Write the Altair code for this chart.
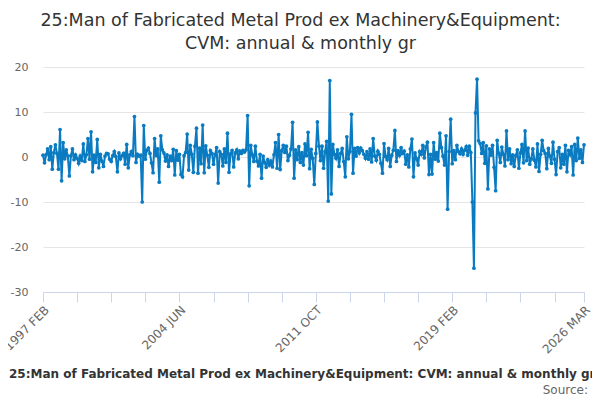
import pandas as pd
import altair as alt

# Monthly series, 1997 FEB .. 2026 MAR
values = [
    0.4, -1.3, 0.5, 1.8, -0.6, 2.3, -2.7, 1.0, 2.7, 0.8,
    -2.7, 6.1, -5.3, 3.2, -0.4, 1.6, 0.2, -4.2, 0.3, 1.8,
    -0.6, 0.5, -0.3, -1.4, 0.2, -0.8, 2.9, -1.0, 0.5, 4.1,
    -0.5, 5.6, -3.3, 0.4, -1.2, 3.9, -2.4, 0.6, -0.9, -2.1,
    0.2, 0.8, 0.7, -0.5, -1.0, 0.3, 1.2, 0.1, -3.3, 0.9,
    -0.4, 0.3, 0.8, -1.6, 2.8, -2.4, 0.5, 1.2, 0.3, 9.0,
    -1.2, 0.6, 0.2, 0.4, -10.0, 7.0, -0.5, 1.5, 2.0, 0.8,
    -1.3, -3.5, 4.1, 0.3, 1.8, -5.6, 4.7, 1.6, 0.9, -0.9,
    0.5, -2.1, 0.2, -0.8, 1.7, -4.0, 1.4, -0.7, 0.6, -3.9,
    -4.4, 0.3, 1.0, 5.1, -2.9, 2.6, 0.6, -3.4, 2.4, 6.4,
    -3.6, 2.0, -1.5, 7.1, -3.5, 2.5, 0.4, -2.3, 1.4, 0.8,
    -1.6, 0.5, 2.1, -5.8, 1.2, 0.6, -2.0, 1.8, -1.2, 5.3,
    -3.4, 0.7, 1.5, -2.2, 0.9, 1.6, -0.4, 1.3, 0.8, 1.5,
    1.1, 1.6, 9.2, -6.4, 2.6, 0.5, -1.0, 2.4, -0.9, -2.0,
    0.6, -4.7, 0.2, -1.2, -2.3, -0.6, -1.8, -0.9, -2.2, 0.5,
    3.2, -2.5, 5.0, -2.8, 1.4, 2.6, 1.0, 2.4, -0.8, 0.4,
    1.8, 7.7, -4.7, 1.6, -0.6, 2.3, -1.2, 1.0, -1.8, 2.9,
    0.3, 5.5, -2.6, 1.7, -0.3, -6.1, 0.8, 7.8, 2.4, -0.8,
    2.4, -2.5, 1.2, 3.5, -9.8, 17.0, -8.2, 2.8, 0.6, -0.3,
    1.6, -2.1, 0.8, 1.9, -1.0, -4.4, 4.5, -0.4, 1.2, 9.5,
    -3.6, 1.9, 0.2, 2.1, 0.9, 2.0, 1.4, 0.6, -0.3, 1.2,
    -0.5, 1.8, -1.1, 4.1, 0.2, -0.7, 1.3, 0.6, -1.4, -3.6,
    3.0, 0.1, -0.6, 1.9, -2.1, 0.4, 1.5, 5.9, -1.0, 1.4,
    0.4, 2.1, 0.8, 1.3, -1.6, 0.5, -2.2, 1.8, 4.0, -4.4,
    0.9, -0.4, -1.8, 1.2, 0.6, 2.6, -0.2, 2.2, 3.3, -3.9,
    0.6, -3.8, 3.2, -0.5, 1.0, -0.9, 5.3, 2.1, 0.2, -1.8,
    4.7, -11.6, 1.2, 8.4, -1.5, 1.4, -0.6, 2.6, 1.2, 0.7,
    1.8, 0.6, 1.5, 2.3, 0.4, 2.4, 1.0, -10.0, -24.7, 9.8,
    17.3, 3.6, 3.0, 0.8, 3.2, -1.4, 2.5, -7.1, 1.8, 0.4,
    2.6, -2.3, -7.5, 3.7, 0.8, -1.2, 2.2, 0.6, -2.0, 5.8,
    -0.6, 1.8, -1.5, 0.5, -2.1, 0.3, 1.6, -2.5, 0.9, 2.8,
    -1.3, 5.8, -0.8, 2.0, -1.6, -0.4, 1.8, -0.7, -2.2, 2.9,
    -3.2, 0.6, 3.7, 1.4, 0.8, -2.6, 1.9, 0.2, -1.4, 3.3,
    -0.5, -3.9, 1.2, 2.1, -2.4, 0.6, -1.6, 2.6, -3.3, 1.5,
    0.5, 2.3, -4.0, 2.8, -0.8, 4.2, -0.3, 1.6, -1.2, 2.7,
]

series_name = "25:Man of Fabricated Metal Prod ex Machinery&Equipment: CVM: annual & monthly growth"
title_lines = ["25:Man of Fabricated Metal Prod ex Machinery&Equipment:", "CVM: annual & monthly gr"]

# x tick positions (month index) and the labelled ones
tick_positions = [0, 22, 44, 66, 88, 110, 132, 154, 176, 198, 220, 242, 264, 286, 308, 330, 349]
label_positions = [0, 88, 176, 264, 349]
label_texts = ["1997 FEB", "2004 JUN", "2011 OCT", "2019 FEB", "2026 MAR"]

df = pd.DataFrame({"idx": range(len(values)), "value": values, "series": series_name})

label_expr = " : ".join(
    f"datum.value == {p} ? '{t}'" for p, t in zip(label_positions, label_texts)
) + " : ''"

FONT = "DejaVu Sans"

line = (
    alt.Chart(df)
    .mark_line(strokeWidth=2, point=alt.OverlayMarkDef(size=14, filled=True, color="#0a7bc1"))
    .encode(
        x=alt.X(
            "idx:Q",
            title=None,
            scale=alt.Scale(domain=[0, 349], nice=False, zero=False),
            axis=alt.Axis(
                values=tick_positions,
                labelExpr=label_expr,
                labelAngle=-45,
                labelFontSize=12,
                labelColor="#666666",
                labelFont=FONT,
                labelFlush=False,
                grid=False,
                domainColor="#ccd6eb",
                tickColor="#ccd6eb",
                tickSize=10,
                labelPadding=2,
                labelOverlap=False,
            ),
        ),
        y=alt.Y(
            "value:Q",
            title=None,
            scale=alt.Scale(domain=[-30, 20], nice=False),
            axis=alt.Axis(
                values=[-30, -20, -10, 0, 10, 20],
                labelExpr="datum.value < 0 ? '-' + abs(datum.value) : '' + datum.value",
                labelFontSize=11,
                labelColor="#666666",
                labelFont=FONT,
                gridColor="#e6e6e6",
                domain=False,
                ticks=False,
                labelPadding=15,
            ),
        ),
        color=alt.Color(
            "series:N",
            scale=alt.Scale(range=["#0a7bc1"]),
            legend=alt.Legend(
                title=None,
                orient="none",
                legendX=-55,
                legendY=298,
                symbolType="stroke",
                symbolSize=200,
                symbolStrokeWidth=2,
                labelFontSize=12,
                labelFontWeight="bold",
                labelColor="#333333",
                labelFont=FONT,
                labelLimit=2000,
            ),
        ),
    )
)

source = (
    alt.Chart(pd.DataFrame({"t": ["Source:"]}))
    .mark_text(align="right", baseline="middle", fontSize=12, color="#666666", font=FONT)
    .encode(text="t:N", x=alt.value(545), y=alt.value(323))
)

chart = (
    (line + source)
    .properties(
        width=541,
        height=225,
        autosize=alt.AutoSizeParams(type="none"),
        padding={"left": 35, "top": 59, "right": 8, "bottom": 108},
        title=alt.TitleParams(
            text=title_lines,
            anchor="middle",
            dx=-13,
            offset=9,
            fontSize=17.5,
            fontWeight="normal",
            color="#333333",
            font=FONT,
            lineHeight=23,
        ),
    )
    .configure_view(strokeWidth=0)
)

chart.save("out.html", embed_options={"renderer": "svg", "actions": False})
